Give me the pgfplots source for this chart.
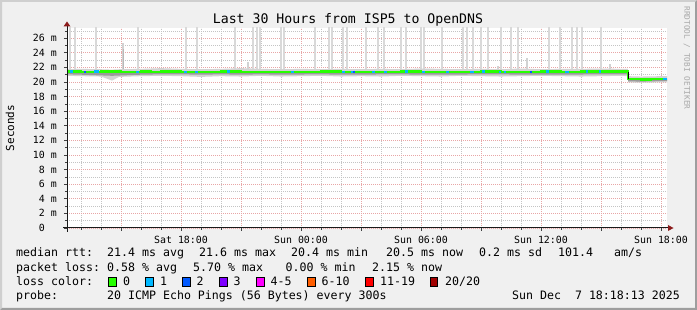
\documentclass[border=0pt]{standalone}
\usepackage{pgfplots}
\pgfplotsset{compat=1.18}
\usepackage{fontspec}
\setmainfont{DejaVu Sans Mono}
\setmonofont{DejaVu Sans Mono}
\definecolor{bgc}{HTML}{F0F0F0}
\definecolor{shadeA}{HTML}{CFCFCF}
\definecolor{shadeB}{HTML}{9E9E9E}
\definecolor{gridc}{HTML}{C4C4C4}
\definecolor{mgridc}{HTML}{E8A6A6}
\definecolor{arrowc}{HTML}{8C1C1C}
\definecolor{smokeL}{HTML}{D2D2D2}
\definecolor{smokeD}{HTML}{9A9A9A}
\definecolor{spikec}{HTML}{D9D9D9}
\definecolor{lc0}{HTML}{26FF00}
\definecolor{lc1}{HTML}{00B8FF}
\definecolor{lc2}{HTML}{0059FF}
\definecolor{lc3}{HTML}{7E00FF}
\definecolor{lc4}{HTML}{FF00FF}
\definecolor{lc6}{HTML}{FF5E00}
\definecolor{lc11}{HTML}{FF0000}
\definecolor{lc20}{HTML}{A10000}
\definecolor{wm}{HTML}{A8A8A8}

% median rtt (ms); x = hours since Sat 00:00
\pgfplotstableread{
x     y
12.30 21.45
13.00 21.40
14.00 21.45
15.00 21.40
16.00 21.45
16.50 21.35
17.00 21.45
18.00 21.40
19.00 21.35
20.00 21.45
21.00 21.40
22.00 21.40
23.00 21.35
24.00 21.40
25.00 21.45
26.00 21.40
27.00 21.35
28.00 21.40
29.00 21.45
30.00 21.40
31.00 21.35
32.00 21.40
33.00 21.45
34.00 21.40
35.00 21.40
36.00 21.45
37.00 21.40
38.00 21.45
39.00 21.45
40.35 20.40
41.00 20.35
41.50 20.45
42.30 20.45
}\median

\begin{document}
\begin{tikzpicture}
\fill[bgc] (0,0) rectangle (697bp,310bp);
\fill[shadeA] (0,0) -- (0,310bp) -- (697bp,310bp) -- (695bp,308bp) -- (2bp,308bp) -- (2bp,2bp) -- cycle;
\fill[shadeB] (0,0) -- (697bp,0) -- (697bp,310bp) -- (695bp,308bp) -- (695bp,2bp) -- (2bp,2bp) -- cycle;

\begin{axis}[
  at={(67bp,82bp)}, anchor=south west,
  scale only axis, width=600bp, height=200bp,
  xmin=12.3, xmax=42.3, ymin=0, ymax=27.4,
  axis line style={draw=none},
  axis background/.style={fill=white},
  tick pos=left, tick align=outside,
  major tick length=3bp, minor tick length=2bp,
  tick style={color=black!75, line width=0.8bp},
  xtick={15,18,21,24,27,30,33,36,39,42},
  xticklabels={,Sat 18:00,,Sun 00:00,,Sun 06:00,,Sun 12:00,,Sun 18:00},
  minor xtick={13,14,16,17,19,20,22,23,25,26,28,29,31,32,34,35,37,38,40,41},
  ytick={0,2,...,26},
  yticklabels={0\hphantom{ m},2 m,4 m,6 m,8 m,10 m,12 m,14 m,16 m,18 m,20 m,22 m,24 m,26 m},
  minor ytick={1,3,...,27},
  grid=both,
  major grid style={draw=mgridc, line width=0.8bp, dash pattern=on 1bp off 1bp},
  minor grid style={draw=gridc, line width=0.8bp, dash pattern=on 1bp off 1bp},
  ticklabel style={font=\fontsize{9.9bp}{11bp}\selectfont, inner sep=0pt},
  xticklabel style={anchor=base, yshift=-13bp},
  yticklabel style={anchor=base east, xshift=-7bp, yshift=-3.5bp},
  clip=true,
]
% smoke spikes (full height)
\addplot[draw=none, mark=none, forget plot,
  error bars/.cd, y dir=plus, y explicit,
  error bar style={draw=spikec, line width=2.8bp}, error mark=none]
coordinates {
(12.45,21.6) +- (0,8) (12.70,21.6) +- (0,8) (13.75,21.6) +- (0,8)
(15.85,21.6) +- (0,8) (18.25,21.6) +- (0,8) (18.80,21.6) +- (0,8)
(20.70,21.6) +- (0,8) (21.60,21.6) +- (0,8) (21.80,21.6) +- (0,8)
(21.95,21.6) +- (0,8) (23.00,21.6) +- (0,8) (23.15,21.6) +- (0,8)
(24.70,21.6) +- (0,8) (25.40,21.6) +- (0,8) (25.55,21.6) +- (0,8)
(26.10,21.6) +- (0,8) (26.30,21.6) +- (0,8) (27.25,21.6) +- (0,8)
(27.85,21.6) +- (0,8) (28.15,21.6) +- (0,8) (29.00,21.6) +- (0,8)
(29.25,21.6) +- (0,8) (30.00,21.6) +- (0,8) (30.15,21.6) +- (0,8)
(31.05,21.6) +- (0,8) (32.10,21.6) +- (0,8) (32.30,21.6) +- (0,8)
(32.60,21.6) +- (0,8) (33.00,21.6) +- (0,8) (33.35,21.6) +- (0,8)
(34.00,21.6) +- (0,8) (34.50,21.6) +- (0,8) (34.85,21.6) +- (0,8)
(36.40,21.6) +- (0,8) (36.95,21.6) +- (0,8) (37.55,21.6) +- (0,8)
(37.80,21.6) +- (0,8) (38.05,21.6) +- (0,8) (39.00,21.6) +- (0,8)
};
% partial spikes
\addplot[draw=none, mark=none, forget plot,
  error bars/.cd, y dir=plus, y explicit,
  error bar style={draw=smokeL, line width=2.8bp}, error mark=none]
coordinates {
(15.10,21.6) +- (0,3.8) (21.35,21.6) +- (0,1.1) (35.30,21.6) +- (0,1.7) (39.45,21.6) +- (0,0.8) (33.85,21.6) +- (0,0.6)
};
\addplot[draw=none, mark=none, forget plot,
  error bars/.cd, y dir=plus, y explicit,
  error bar style={draw=smokeD!70, line width=1.5bp}, error mark=none]
coordinates {(15.12,21.5) +- (0,3.0)};

% smoke band, light: upper edge forward, lower edge backward
\addplot[fill=smokeL, draw=none, forget plot] coordinates {
(12.30,21.75)(13.00,21.80)(14.00,21.75)(14.55,21.70)(14.90,21.75)(16.00,21.80)(17.00,21.90)(18.00,21.80)(19.00,21.75)(20.00,21.80)(21.00,21.90)(22.00,21.80)(23.00,21.75)(24.00,21.80)(25.00,21.75)(26.00,21.80)(27.00,21.75)(28.00,21.80)(29.00,21.75)(30.00,21.85)(31.00,21.80)(32.00,21.75)(33.00,21.80)(34.00,21.75)(35.00,21.85)(36.00,21.75)(37.00,21.80)(38.00,21.80)(39.00,21.85)(40.00,21.80)(40.34,21.80)(40.36,20.80)(41.00,20.75)(42.00,20.80)(42.30,20.80)
(42.30,19.95)(42.00,19.95)(41.00,19.90)(40.36,19.95)(40.34,20.80)(40.00,20.85)(39.00,20.80)(38.00,20.75)(37.00,20.80)(36.00,20.85)(35.00,20.80)(34.00,20.75)(33.00,20.80)(32.00,20.85)(31.00,20.75)(30.00,20.80)(29.00,20.85)(28.00,20.75)(27.00,20.80)(26.00,20.75)(25.00,20.85)(24.00,20.80)(23.00,20.75)(22.00,20.85)(21.00,20.75)(20.00,20.80)(19.00,20.70)(18.00,20.80)(17.00,20.85)(16.00,20.80)(14.90,20.70)(14.55,20.20)(14.00,20.75)(13.00,20.80)(12.30,20.85)
} -- cycle;
% smoke band, dark core (mostly below the median)
\addplot[fill=smokeD, draw=none, forget plot] coordinates {
(12.30,21.40)(13.00,21.35)(16.00,21.40)(17.00,21.45)(18.00,21.40)(19.00,21.35)(20.00,21.40)(21.00,21.45)(22.00,21.40)(23.00,21.35)(24.00,21.40)(27.00,21.35)(28.00,21.40)(31.00,21.35)(32.00,21.40)(34.00,21.35)(35.00,21.40)(40.34,21.40)(40.36,20.45)(41.00,20.40)(42.30,20.45)
(42.30,20.15)(41.00,20.05)(40.36,20.10)(40.34,21.05)(35.00,21.00)(34.00,21.05)(30.00,21.00)(29.00,21.05)(26.00,21.00)(25.00,21.05)(23.00,21.00)(22.00,21.05)(21.00,21.00)(20.00,21.05)(19.00,21.00)(18.00,21.05)(17.00,21.05)(16.00,21.00)(14.55,20.85)(13.00,21.00)(12.30,21.05)
} -- cycle;

% median line, loss 0
\addplot[const plot, color=lc0, line width=2.3bp, forget plot] table[x=x,y=y]{\median};
\addplot[black, line width=1bp, forget plot] coordinates {(40.35,21.40) (40.35,20.40)};
% median segments with 1 lost ping
\addplot[draw=none, mark=none, forget plot,
  error bars/.cd, x dir=both, x explicit,
  error bar style={draw=lc1, line width=2.3bp}, error mark=none]
coordinates {
(12.52,21.45) +- (0.07,0) (13.78,21.45) +- (0.12,0) (15.82,21.40) +- (0.07,0)
(18.22,21.40) +- (0.07,0) (18.78,21.40) +- (0.07,0) (20.38,21.45) +- (0.07,0)
(23.58,21.40) +- (0.07,0) (26.12,21.40) +- (0.07,0) (26.58,21.40) +- (0.07,0)
(27.62,21.35) +- (0.07,0) (28.22,21.40) +- (0.07,0) (29.28,21.45) +- (0.07,0)
(30.12,21.40) +- (0.07,0) (31.32,21.35) +- (0.07,0) (32.55,21.40) +- (0.1,0)
(33.12,21.45) +- (0.07,0) (33.95,21.40) +- (0.05,0) (34.20,21.40) +- (0.05,0)
(36.32,21.45) +- (0.07,0) (37.30,21.40) +- (0.1,0) (38.30,21.45) +- (0.05,0)
(38.95,21.45) +- (0.05,0) (42.20,20.45) +- (0.1,0)
};
% median segments with 2 lost pings
\addplot[draw=none, mark=none, forget plot,
  error bars/.cd, x dir=both, x explicit,
  error bar style={draw=lc2, line width=2.3bp}, error mark=none]
coordinates {(13.20,21.40) +- (0.05,0) (26.65,21.40) +- (0.05,0) (35.50,21.40) +- (0.05,0)};
\end{axis}

% axes with arrows
\draw[black!90, line width=1bp] (63bp,82bp) -- (668bp,82bp);
\fill[arrowc] (673.5bp,82bp) -- (668bp,85bp) -- (668bp,79bp) -- cycle;
\draw[black!90, line width=1bp] (67bp,78bp) -- (67bp,284bp);
\fill[arrowc] (67bp,288.5bp) -- (63.5bp,283.5bp) -- (70.5bp,283.5bp) -- cycle;

% title and labels
\node[anchor=base, inner sep=0pt, font=\fontsize{13.2bp}{15bp}\selectfont] at (348bp,286bp) {Last 30 Hours from ISP5 to OpenDNS};
\node[rotate=90, inner sep=0pt, font=\fontsize{11bp}{13bp}\selectfont] at (10bp,182bp) {Seconds};
\node[rotate=-90, inner sep=0pt, text=wm, font=\fontsize{7.8bp}{9bp}\selectfont] at (687bp,252bp) {RRDTOOL / TOBI OETIKER};

% legend
\begin{scope}[every node/.style={anchor=base west, inner sep=0pt, font=\fontsize{11.6bp}{13bp}\selectfont}]
\node at (16bp,53bp) {median rtt:};
\node at (107bp,53bp) {21.4 ms avg};
\node at (199bp,53bp) {21.6 ms max};
\node at (291bp,53bp) {20.4 ms min};
\node at (386bp,53bp) {20.5 ms now};
\node at (479bp,53bp) {0.2 ms sd};
\node at (558bp,53bp) {101.4};
\node at (614bp,53bp) {am/s};
\node at (16bp,38.5bp) {packet loss:};
\node at (107bp,38.5bp) {0.58 \% avg};
\node at (193bp,38.5bp) {5.70 \% max};
\node at (285.5bp,38.5bp) {0.00 \% min};
\node at (372bp,38.5bp) {2.15 \% now};
\node at (16bp,25bp) {loss color:};
\node at (123bp,25bp) {0};
\node at (160bp,25bp) {1};
\node at (196.5bp,25bp) {2};
\node at (233.5bp,25bp) {3};
\node at (270.5bp,25bp) {4-5};
\node at (321.5bp,25bp) {6-10};
\node at (380bp,25bp) {11-19};
\node at (445bp,25bp) {20/20};
\node at (16bp,11bp) {probe:};
\node at (107bp,11bp) {20 ICMP Echo Pings (56 Bytes) every 300s};
\node[anchor=base east] at (680bp,11bp) {Sun Dec\ \ 7 18:18:13 2025};
\end{scope}
\begin{scope}[draw=black, line width=0.8bp]
\filldraw[fill=lc0]  (108.5bp,24bp) rectangle ++(7.5bp,8.5bp);
\filldraw[fill=lc1]  (145.8bp,24bp) rectangle ++(7.5bp,8.5bp);
\filldraw[fill=lc2]  (182.8bp,24bp) rectangle ++(7.5bp,8.5bp);
\filldraw[fill=lc3]  (219.5bp,24bp) rectangle ++(7.5bp,8.5bp);
\filldraw[fill=lc4]  (256.8bp,24bp) rectangle ++(7.5bp,8.5bp);
\filldraw[fill=lc6]  (307.4bp,24bp) rectangle ++(7.5bp,8.5bp);
\filldraw[fill=lc11] (365.8bp,24bp) rectangle ++(7.5bp,8.5bp);
\filldraw[fill=lc20] (430.2bp,24bp) rectangle ++(7.5bp,8.5bp);
\end{scope}
\pgfresetboundingbox
\useasboundingbox (0,0) rectangle (697bp,310bp);
\end{tikzpicture}
\end{document}
